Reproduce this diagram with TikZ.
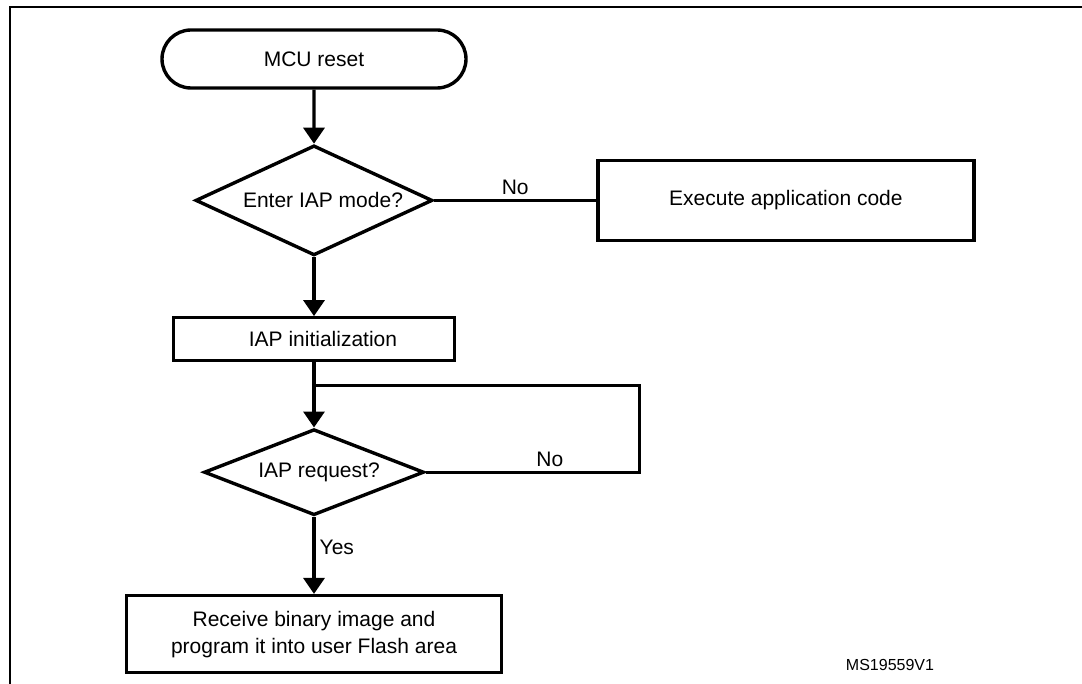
\documentclass[tikz,border=0pt]{standalone}
\usepackage{fontspec}
\setmainfont{Liberation Sans}
\usetikzlibrary{positioning,shapes.geometric,shapes.misc,arrows.meta}

\begin{document}
\begin{tikzpicture}
    [ font = \fontsize{10.5}{13.5}\selectfont
    , terminal/.style =
      { draw, rounded rectangle, line width=1.7pt
      , minimum width=152pt, minimum height=29pt, inner sep=0pt }
    , decision/.style =
      { draw, diamond, aspect=2, line width=1.7pt, inner sep=0pt }
    , process/.style =
      { draw, rectangle, line width=1.7pt, align=center, inner sep=0pt }
    , flow/.style =
      { line width=1.7pt, -{Triangle[width=10.5pt,length=8pt]} }
    , link/.style =
      { line width=1.7pt }
    , answer/.style =
      { inner sep=2pt }
    ]
    \useasboundingbox (0,0) rectangle (541pt,-342pt);
    % frame
    \draw [line width=1pt] (5pt,-342pt) -- (5pt,-3.5pt) -- (541pt,-3.5pt);

    \node [terminal] (reset) at (157pt,-29.5pt) {MCU reset};
    \node [decision, minimum width=118.5pt, minimum height=55pt]
          (enter) [below=27pt of reset] {\hspace{9pt}Enter IAP mode?};
    \node [process, minimum width=188pt, minimum height=40pt]
          (exec) [right=81pt of enter] {Execute application code};
    \node [process, minimum width=140.5pt, minimum height=21.5pt]
          (init) [below=29.5pt of enter] {\hspace{9pt}IAP initialization};
    \coordinate [below=11.5pt of init] (loop);
    \node [decision, minimum width=110pt, minimum height=43pt]
          (request) [below=32.5pt of init] {\hspace{5pt}IAP request?};
    \node [process, minimum width=187.5pt, minimum height=38.5pt]
          (receive) [below=38.5pt of request]
          {Receive binary image and\\program it into user Flash area};

    \node [font=\fontsize{8}{10}\selectfont] (ref) at (445pt,-332.5pt) {MS19559V1};

    \draw [flow] (reset) -- (enter);
    \draw [link] (enter.east) -- (enter.east -| exec.west)
          node [answer, midway, above] {No};
    \draw [flow] (enter) -- (init);
    \draw [flow] (init) -- (request);
    \draw [link] (request.east) -- ++(107pt,0)
          node [answer, pos=.58, above] {No} |- (loop);
    \draw [flow] (request) -- (receive)
          node [answer, pos=.39, right] {Yes};
  \end{tikzpicture}
\end{document}
